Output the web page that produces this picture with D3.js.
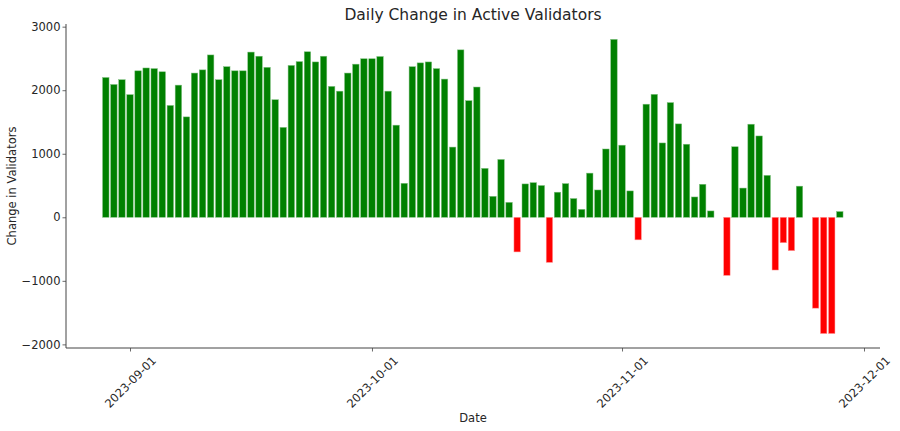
<!DOCTYPE html>
<html>
<head>
<meta charset="utf-8">
<script src="https://cdn.jsdelivr.net/npm/d3@7"></script>
<style>
  html, body { margin: 0; padding: 0; background: #fff; }
  text { font-family: "DejaVu Sans", sans-serif; fill: #262626; }
</style>
</head>
<body>
<svg id="chart" width="900" height="431"></svg>
<script>
// ---- data ----
const dates = [
  "2023-08-29","2023-08-30","2023-08-31","2023-09-01","2023-09-02","2023-09-03","2023-09-04","2023-09-05",
  "2023-09-06","2023-09-07","2023-09-08","2023-09-09","2023-09-10","2023-09-11","2023-09-12","2023-09-13",
  "2023-09-14","2023-09-15","2023-09-16","2023-09-17","2023-09-18","2023-09-19","2023-09-20","2023-09-21",
  "2023-09-22","2023-09-23","2023-09-24","2023-09-25","2023-09-26","2023-09-27","2023-09-28","2023-09-29",
  "2023-09-30","2023-10-01","2023-10-02","2023-10-03","2023-10-04","2023-10-05","2023-10-06","2023-10-07",
  "2023-10-08","2023-10-09","2023-10-10","2023-10-11","2023-10-12","2023-10-13","2023-10-14","2023-10-15",
  "2023-10-16","2023-10-17","2023-10-18","2023-10-19","2023-10-20","2023-10-21","2023-10-22","2023-10-23",
  "2023-10-24","2023-10-25","2023-10-26","2023-10-27","2023-10-28","2023-10-29","2023-10-30","2023-10-31",
  "2023-11-01","2023-11-02","2023-11-03","2023-11-04","2023-11-05","2023-11-06","2023-11-07","2023-11-08",
  "2023-11-09","2023-11-10","2023-11-11","2023-11-12","2023-11-14","2023-11-15","2023-11-16","2023-11-17",
  "2023-11-18","2023-11-19","2023-11-20","2023-11-21","2023-11-22","2023-11-23","2023-11-25","2023-11-26",
  "2023-11-27","2023-11-28"
];
const changes = [
  2200, 2090, 2165, 1930, 2305, 2350, 2340, 2290,
  1760, 2080, 1580, 2270, 2320, 2555, 2165, 2370,
  2305, 2305, 2600, 2535, 2360, 1850, 1415, 2390,
  2450, 2605, 2445, 2535, 2060, 1985, 2270, 2410,
  2495, 2495, 2530, 1985, 1450, 535, 2370, 2430,
  2445, 2340, 2175, 1105, 2635, 1835, 2050, 770,
  330, 910, 235, -545, 525, 545, 500, -710,
  395, 530, 295, 125, 695, 430, 1075, 2800,
  1135, 415, -355, 1780, 1935, 1170, 1805, 1470,
  1150, 320, 520, 100, -915, 1110, 460, 1465,
  1280, 660, -830, -400, -525, 490, -1430, -1830,
  -1830, 90
];
const xTickLabels = ["2023-09-01", "2023-10-01", "2023-11-01", "2023-12-01"];
const yTicks = [-2000, -1000, 0, 1000, 2000, 3000];
const chartTitle = "Daily Change in Active Validators";
const xTitle = "Date";
const yTitle = "Change in Validators";
const posColor = "#008000";
const negColor = "#ff0000";

(function draw() {
  const svg = d3.select("#chart");
  const mLeft = 66, mRight = 880, mTop = 24, mBottom = 348;
  const parse = d3.utcParse("%Y-%m-%d");
  const rows = dates.map((d, i) => ({ date: parse(d), value: changes[i] }));

  // x: calibrate on tick positions, then set domain to the axes extent
  const x = d3.scaleUtc()
    .domain([parse(xTickLabels[0]), parse(xTickLabels[3])])
    .range([130, 864]);
  x.domain([x.invert(mLeft), x.invert(mRight)]).range([mLeft, mRight]);
  const dayPx = x(parse("2023-09-02")) - x(parse("2023-09-01"));
  const barW = dayPx * 0.8;

  const y = d3.scaleLinear().domain([-2057, 3042]).range([mBottom, mTop]);

  // bars
  svg.append("g").selectAll("rect").data(rows).join("rect")
    .attr("x", d => x(d.date) - barW / 2)
    .attr("width", barW)
    .attr("y", d => y(Math.max(0, d.value)))
    .attr("height", d => Math.abs(y(d.value) - y(0)))
    .attr("fill", d => d.value >= 0 ? posColor : negColor)
    .attr("stroke", d => d.value >= 0 ? "#7fbf7f" : "#ff9f9f")
    .attr("stroke-width", 0.5);

  // axes
  const axisColor = "#444";
  const yAxis = svg.append("g").attr("transform", `translate(${mLeft},0)`)
    .call(d3.axisLeft(y).tickValues(yTicks).tickSize(3.5).tickPadding(2)
      .tickFormat(d => d < 0 ? "\u2212" + Math.abs(d) : String(d)));
  yAxis.select(".domain").remove();
  yAxis.selectAll(".tick line").attr("stroke", axisColor).attr("stroke-width", 0.8);
  yAxis.selectAll(".tick text").attr("font-size", 11.5).attr("fill", "#262626")
    .attr("font-family", "DejaVu Sans");

  const xAxis = svg.append("g").attr("transform", `translate(0,${mBottom})`)
    .call(d3.axisBottom(x).tickValues(xTickLabels.map(parse)).tickSize(3.5)
      .tickFormat(d3.utcFormat("%Y-%m-%d")));
  xAxis.select(".domain").remove();
  xAxis.selectAll(".tick line").attr("stroke", axisColor).attr("stroke-width", 0.8);
  xAxis.selectAll(".tick text")
    .attr("font-size", 11.5).attr("fill", "#262626").attr("font-family", "DejaVu Sans")
    .attr("text-anchor", "middle").attr("dy", null).attr("y", null)
    .attr("dominant-baseline", "central")
    .attr("transform", "translate(0,34) rotate(-45)");

  // spines
  svg.append("line").attr("x1", mLeft).attr("x2", mLeft).attr("y1", mTop).attr("y2", mBottom)
    .attr("stroke", axisColor).attr("stroke-width", 1);
  svg.append("line").attr("x1", mLeft).attr("x2", mRight).attr("y1", mBottom).attr("y2", mBottom)
    .attr("stroke", axisColor).attr("stroke-width", 1);

  // titles
  svg.append("text").attr("x", (mLeft + mRight) / 2).attr("y", 19.5)
    .attr("text-anchor", "middle").attr("font-size", 15.5).text(chartTitle);
  svg.append("text").attr("x", (mLeft + mRight) / 2).attr("y", 422)
    .attr("text-anchor", "middle").attr("font-size", 11.5).text(xTitle);
  svg.append("text").attr("transform", `translate(16,${(mTop + mBottom) / 2}) rotate(-90)`)
    .attr("text-anchor", "middle").attr("font-size", 11.5).text(yTitle);
})();
</script>
</body>
</html>
